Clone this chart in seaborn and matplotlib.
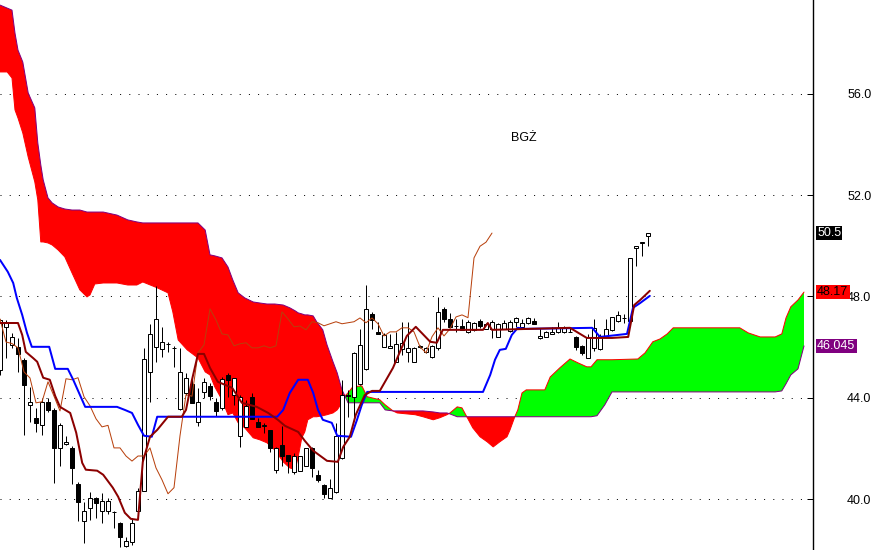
import numpy as np
import matplotlib
matplotlib.use('Agg')
import matplotlib.pyplot as plt
import matplotlib.transforms as mtransforms
import seaborn as sns

ticker = 'BGŻ'

# daily candles, bar 0 = first bar on screen
opens = [45.10, 46.80, 46.09, 46.00, 45.50, 43.72, 43.21, 42.93, 43.84, 43.52,
         42.02, 42.18, 42.02, 40.60, 39.14, 39.66, 40.05, 39.54, 39.54, 39.50,
         39.07, 38.16, 38.32, 39.54, 40.33, 45.02, 46.01, 45.93, 46.12, 45.98,
         43.56, 44.19, 44.55, 43.05, 44.23, 44.47, 43.84, 43.60, 44.90, 44.12,
         42.50, 42.85, 44.04, 43.05, 42.87, 42.73, 41.16, 42.14, 41.74, 41.08,
         41.12, 41.31, 42.02, 40.96, 40.56, 40.05, 40.29, 41.63, 44.12, 44.04,
         44.55, 45.14, 47.31, 46.60, 46.01, 45.97, 45.41, 45.93, 45.81, 45.41,
         46.00, 45.81, 45.61, 45.97, 47.51, 47.11, 46.85, 46.84, 46.60, 46.68,
         47.03, 46.72, 46.72, 46.41, 46.72, 46.64, 47.00, 46.80, 46.96, 47.03,
         46.36, 46.40, 46.52, 46.60, 46.60, 46.61, 46.41, 46.05, 45.57, 45.97,
         45.93, 46.41, 46.68, 47.03, 47.14, 47.03, 49.92, 50.10, 50.38]
highs = [47.10, 47.07, 46.56, 46.36, 45.55, 44.43, 43.60, 44.00, 44.00, 43.60,
         43.00, 42.50, 42.10, 40.68, 39.89, 40.29, 40.10, 40.25, 40.05, 39.52,
         39.10, 38.51, 39.26, 40.44, 45.97, 46.92, 48.41, 46.80, 46.20, 46.05,
         45.97, 44.98, 44.75, 44.39, 44.79, 44.60, 44.00, 44.82, 44.98, 44.79,
         44.10, 43.90, 44.20, 43.20, 43.00, 42.73, 42.05, 42.89, 41.75, 41.80,
         41.70, 42.02, 42.05, 41.16, 40.60, 40.80, 43.01, 44.70, 44.30, 45.80,
         46.72, 48.45, 47.40, 46.99, 46.56, 46.52, 46.60, 46.99, 46.99, 46.00,
         46.10, 46.00, 46.10, 47.98, 47.60, 47.35, 47.10, 47.10, 47.05, 47.00,
         47.10, 46.95, 47.05, 46.95, 47.05, 47.05, 47.20, 47.10, 47.20, 47.15,
         46.76, 46.65, 46.80, 47.00, 46.85, 46.75, 46.45, 46.10, 46.50, 47.11,
         46.50, 47.11, 47.20, 47.43, 47.30, 49.52, 50.00, 50.15, 50.50]
lows = [44.90, 45.57, 45.97, 45.02, 42.54, 43.05, 42.66, 42.54, 43.44, 40.64,
        41.31, 42.14, 40.60, 39.14, 38.28, 39.18, 39.26, 39.07, 39.40, 38.87,
        38.12, 38.12, 38.20, 39.50, 40.30, 43.84, 45.41, 45.61, 45.80, 45.20,
        43.50, 44.10, 43.80, 42.90, 44.00, 43.92, 43.29, 43.50, 44.04, 43.72,
        42.06, 42.85, 43.17, 42.85, 42.60, 41.86, 41.04, 41.31, 41.04, 41.00,
        41.10, 41.30, 40.88, 40.68, 40.05, 40.05, 40.25, 41.60, 43.25, 43.25,
        44.50, 45.10, 46.72, 46.52, 46.00, 45.97, 45.41, 45.70, 45.42, 45.41,
        45.95, 45.75, 45.55, 45.90, 47.00, 46.80, 46.60, 46.68, 46.55, 46.65,
        46.76, 46.70, 46.36, 46.40, 46.70, 46.60, 46.80, 46.78, 46.90, 46.90,
        46.30, 46.38, 46.50, 46.55, 46.55, 46.58, 45.90, 45.69, 45.55, 45.85,
        45.90, 46.40, 46.65, 47.00, 46.95, 47.00, 49.20, 49.60, 49.99]
closes = [47.05, 47.00, 46.40, 45.73, 44.51, 43.84, 43.01, 43.84, 43.52, 42.02,
          42.93, 42.26, 41.23, 39.89, 39.54, 40.05, 39.85, 39.93, 39.93, 39.48,
          38.51, 38.36, 39.07, 40.33, 45.53, 46.52, 47.11, 46.20, 46.14, 45.97,
          45.02, 44.78, 43.80, 43.84, 44.63, 44.06, 43.48, 44.75, 44.71, 44.79,
          44.04, 43.68, 43.17, 42.85, 42.91, 42.02, 42.02, 41.70, 41.50, 41.70,
          41.70, 42.02, 41.23, 40.76, 40.21, 40.45, 42.50, 44.12, 44.06, 45.77,
          46.09, 47.51, 47.07, 46.52, 46.48, 46.05, 46.13, 46.17, 45.97, 45.97,
          46.05, 45.97, 46.05, 47.39, 47.11, 46.80, 46.83, 46.68, 47.00, 46.96,
          46.84, 46.92, 47.00, 46.92, 46.96, 47.00, 47.15, 46.96, 47.15, 46.92,
          46.44, 46.60, 46.60, 46.76, 46.76, 46.60, 46.01, 45.77, 46.41, 46.76,
          46.44, 46.72, 47.19, 47.27, 47.16, 49.52, 49.98, 50.14, 50.50]
lag = 26

# kumo: bar position, senkou span A, senkou span B
kumo_bar = [0.0, 1.2, 2.0, 2.5, 3.0, 3.8, 4.7, 5.8, 6.3, 6.8,
            7.2, 8.0, 8.7, 9.7, 10.8, 12.0, 13.3, 14.5, 15.0, 15.8,
            17.2, 19.5, 21.3, 22.8, 23.8, 26.2, 28.0, 28.8, 29.7, 31.2,
            33.0, 34.2, 35.0, 35.8, 37.0, 38.0, 38.8, 39.7, 40.8, 42.2,
            43.3, 44.5, 45.8, 47.2, 48.3, 49.2, 49.7, 50.3, 50.8, 51.3,
            52.2, 52.8, 53.8, 54.5, 55.5, 56.2, 57.0, 57.5, 58.0, 58.8,
            60.3, 61.2, 63.3, 64.2, 65.5, 66.2, 69.2, 70.5, 72.2, 73.3,
            74.5, 75.0, 76.2, 77.0, 77.8, 78.8, 80.0, 81.2, 82.2, 83.3,
            84.5, 85.0, 85.8, 86.3, 87.0, 87.7, 90.8, 91.7, 93.3, 95.0,
            96.3, 97.8, 98.5, 99.5, 100.8, 102.0, 106.3, 107.5, 108.8, 110.0,
            111.2, 112.2, 123.3, 124.7, 126.7, 129.2, 130.3, 131.0, 131.8, 133.0,
            134.0]
span_a = [56.86, 56.86, 56.62, 55.36, 55.04, 54.45, 53.50, 52.52, 51.81, 50.15,
          50.15, 50.11, 50.03, 49.83, 49.56, 48.93, 48.26, 47.98, 48.06, 48.49,
          48.53, 48.53, 48.45, 48.45, 48.57, 48.34, 48.14, 47.39, 46.28, 45.89,
          45.57, 45.02, 44.90, 44.43, 43.92, 43.33, 43.40, 43.01, 42.81, 42.42,
          42.34, 42.22, 41.94, 41.47, 41.23, 41.16, 41.67, 42.42, 42.65, 43.13,
          43.25, 43.25, 43.29, 43.33, 43.40, 43.52, 43.80, 44.07, 44.19, 44.43,
          44.47, 44.04, 43.92, 43.72, 43.48, 43.40, 43.33, 43.25, 43.13, 43.21,
          43.33, 43.40, 43.64, 43.60, 43.25, 42.81, 42.46, 42.26, 42.06, 42.26,
          42.46, 42.73, 43.25, 43.52, 44.19, 44.31, 44.31, 44.82, 45.18, 45.53,
          45.38, 45.22, 45.22, 45.50, 45.50, 45.50, 45.53, 45.77, 46.21, 46.32,
          46.52, 46.76, 46.76, 46.56, 46.40, 46.40, 46.52, 47.15, 47.59, 47.86,
          48.17]
span_b = [59.50, 59.38, 59.30, 58.39, 57.72, 57.25, 56.03, 55.44, 54.06, 53.19,
          52.60, 51.89, 51.69, 51.53, 51.45, 51.41, 51.41, 51.33, 51.33, 51.33,
          51.33, 51.21, 51.02, 50.94, 50.90, 50.90, 50.90, 50.90, 50.90, 50.90,
          50.90, 50.62, 49.64, 49.60, 49.52, 49.16, 48.65, 48.14, 47.94, 47.78,
          47.74, 47.70, 47.70, 47.66, 47.55, 47.43, 47.35, 47.31, 47.27, 47.27,
          47.23, 46.99, 46.68, 46.09, 45.42, 44.98, 44.31, 44.07, 43.80, 43.80,
          43.80, 43.80, 43.80, 43.52, 43.48, 43.48, 43.48, 43.48, 43.44, 43.40,
          43.40, 43.36, 43.25, 43.25, 43.25, 43.25, 43.25, 43.25, 43.25, 43.25,
          43.25, 43.25, 43.25, 43.25, 43.25, 43.25, 43.25, 43.25, 43.25, 43.25,
          43.25, 43.25, 43.25, 43.29, 43.72, 44.23, 44.23, 44.23, 44.23, 44.23,
          44.23, 44.23, 44.23, 44.23, 44.23, 44.23, 44.27, 44.55, 44.90, 45.14,
          46.045]

# kijun-sen (blue) and tenkan-sen (dark red) vertices
kijun_bar = [0.0, 1.3, 2.2, 2.8, 3.7, 4.5, 5.3, 8.2, 9.2, 11.3, 12.2, 14.2, 19.5, 20.8,
             22.0, 23.0, 24.0, 25.3, 26.2, 46.2, 47.2, 48.3, 49.7, 51.3, 52.2, 53.0,
             53.8, 55.3, 56.2, 58.5, 59.5, 60.3, 61.2, 80.5, 81.7, 82.5, 83.3, 84.3,
             85.3, 86.3, 87.5, 98.7, 100.0, 104.5, 105.5, 106.7, 108.3]
kijun = [49.44, 48.97, 48.53, 47.94, 47.27, 46.56, 46.01, 46.01, 45.14, 45.14, 44.71, 43.64,
         43.64, 43.52, 43.40, 42.93, 42.50, 42.46, 43.25, 43.25, 43.52, 44.19, 44.71, 44.71,
         44.19, 43.52, 43.13, 43.01, 42.50, 42.46, 43.13, 43.72, 44.23, 44.23, 44.90, 45.50,
         45.89, 45.93, 46.48, 46.76, 46.72, 46.76, 46.40, 46.52, 47.55, 47.74, 48.02]
tenkan_bar = [0.0, 3.0, 3.7, 4.3, 5.5, 6.2, 7.2, 8.3, 9.2, 10.0, 11.7, 12.7, 13.7, 14.3,
              16.2, 17.2, 18.8, 19.7, 20.8, 21.8, 23.0, 23.8, 25.0, 26.2, 28.0, 30.3,
              31.0, 32.0, 33.0, 34.0, 35.0, 36.3, 38.7, 40.3, 42.8, 44.7, 46.3, 47.5,
              49.7, 50.8, 52.2, 54.5, 56.3, 57.2, 58.3, 59.3, 60.8, 62.0, 63.3, 65.5,
              67.8, 69.3, 71.7, 72.8, 73.8, 80.5, 81.3, 82.0, 95.0, 97.8, 102.0, 104.7,
              105.7, 106.7, 108.3]
tenkan = [46.95, 46.95, 46.48, 45.81, 45.57, 45.42, 44.79, 44.71, 44.07, 43.64, 43.40,
          42.62, 41.43, 41.16, 41.12, 40.96, 40.45, 40.09, 39.46, 39.22, 39.18, 41.47,
          42.46, 42.73, 43.25, 43.25, 43.52, 44.71, 45.73, 45.73, 45.18, 44.63, 44.39,
          43.80, 43.64, 43.40, 43.13, 42.89, 42.65, 42.30, 41.91, 41.51, 41.47, 42.06,
          42.46, 43.33, 44.11, 44.27, 44.27, 45.18, 46.44, 46.80, 46.21, 46.17, 46.68,
          46.68, 46.95, 46.68, 46.76, 46.36, 46.36, 46.40, 47.66, 47.86, 48.22]

price_ticks = [40, 44, 48, 52, 56]

sns.set_style('white')
plt.rcParams['font.family'] = ['Liberation Sans', 'DejaVu Sans']

fig = plt.figure(figsize=(8.72, 5.5), dpi=100)
ax = fig.add_axes([0, 0, 813 / 872, 1])

px = 0.72  # one pixel in points

for p in price_ticks:
    ax.axhline(p, color='black', lw=px, ls=(0, (1, 8.2)), zorder=0.5)

# cloud
kb = np.array(kumo_bar)
sa = np.array(span_a)
sb = np.array(span_b)
ax.fill_between(kb, sa, sb, where=sa >= sb, interpolate=True, color='#00ff00', lw=0, zorder=1)
ax.fill_between(kb, sa, sb, where=sa < sb, interpolate=True, color='#ff0000', lw=0, zorder=1)
sns.lineplot(x=kb, y=sa, ax=ax, color='#ff0000', linewidth=px, estimator=None, sort=False, zorder=1.5)
sns.lineplot(x=kb, y=sb, ax=ax, color='#800080', linewidth=px, estimator=None, sort=False, zorder=1.5)

# candles
o = np.array(opens)
h = np.array(highs)
l = np.array(lows)
c = np.array(closes)
idx = np.arange(len(c))
up = c >= o
ax.vlines(idx, l, h, color='black', lw=px, zorder=2)
body = np.maximum(np.abs(c - o), 0.012)
ax.bar(idx, body, bottom=np.minimum(o, c), width=0.72,
       color=np.where(up, 'white', 'black'), edgecolor='black', linewidth=px, zorder=2.5)

# chikou span = close shifted back
sns.lineplot(x=idx[lag:] - lag, y=c[lag:], ax=ax, color='#b8400c', linewidth=px,
             estimator=None, sort=False, zorder=3)
sns.lineplot(x=kijun_bar, y=kijun, ax=ax, color='#0000ff', linewidth=2 * px,
             estimator=None, sort=False, zorder=3.5)
sns.lineplot(x=tenkan_bar, y=tenkan, ax=ax, color='#8b0000', linewidth=2 * px,
             estimator=None, sort=False, zorder=3.6)

ax.set_xlim(0, 813 / 6)
ax.set_ylim(37.99, 59.70)
ax.set_xlabel('')
ax.set_ylabel('')
ax.set_xticks([])
ax.yaxis.tick_right()
ax.set_yticks(price_ticks)
ax.set_yticklabels(['%.1f' % p for p in price_ticks])
ax.tick_params(axis='y', direction='in', length=4, width=px, pad=24.5, labelsize=9,
               colors='black', right=True, left=False)
for side in ['left', 'top', 'bottom']:
    ax.spines[side].set_visible(False)
ax.spines['right'].set_color('black')
ax.spines['right'].set_linewidth(1.0)

# last-value tags
tag = mtransforms.blended_transform_factory(ax.transAxes, ax.transData)
tags = [(closes[-1], 'black', 'white'), (span_a[-1], '#ff0000', 'black'), (span_b[-1], '#800080', 'white')]
for val, bg, fg in tags:
    ax.text(1.005, val, '%g' % val, transform=tag, ha='left', va='center', fontsize=9,
            color=fg, clip_on=False, zorder=6,
            bbox=dict(boxstyle='square,pad=0.1', fc=bg, ec='none'))

fig.text(524 / 872, 1 - 138 / 550, ticker, ha='center', va='center', fontsize=9, color='black')

fig.savefig('out.png', dpi=100)
